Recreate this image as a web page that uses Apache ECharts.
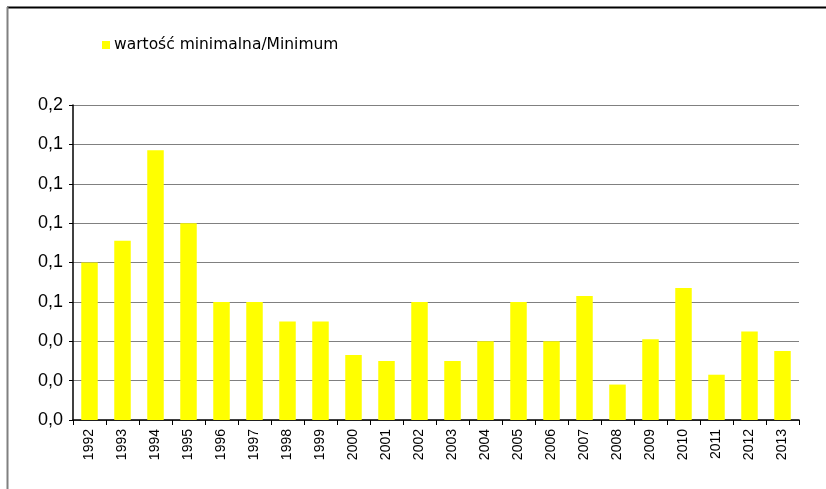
<!DOCTYPE html>
<html>
<head>
<meta charset="utf-8">
<script src="https://cdn.jsdelivr.net/npm/echarts@6/dist/echarts.min.js"></script>
<style>
html,body{margin:0;padding:0;background:#fff;}
#chart{width:826px;height:489px;}
</style>
</head>
<body>
<div id="chart"></div>
<script>
const years = ['1992','1993','1994','1995','1996','1997','1998','1999','2000','2001','2002','2003','2004','2005','2006','2007','2008','2009','2010','2011','2012','2013'];
const minimumValues = [0.080,0.091,0.137,0.100,0.060,0.060,0.050,0.050,0.033,0.030,0.060,0.030,0.040,0.060,0.040,0.063,0.018,0.041,0.067,0.023,0.045,0.035];
const seriesName = 'wartość minimalna/Minimum';
const yMin = 0, yMax = 0.16, yStep = 0.02;

const chart = echarts.init(document.getElementById('chart'));
chart.setOption({
  animation: false,
  backgroundColor: '#ffffff',
  graphic: [
    {type:'line', shape:{x1:7, y1:7.5, x2:826, y2:7.5}, style:{stroke:'#000', lineWidth:2}},
    {type:'line', shape:{x1:7.5, y1:7, x2:7.5, y2:489}, style:{stroke:'#808080', lineWidth:2}}
  ],
  legend: {
    left: 102, top: 37, padding: 0,
    itemWidth: 8, itemHeight: 8, itemGap: 10,
    icon: 'rect',
    textStyle: {fontFamily: 'DejaVu Sans', fontSize: 15.5, color: '#000', padding:[0,0,0,-1]},
    data: [seriesName]
  },
  grid: {left: 73, right: 27, top: 105, bottom: 69},
  xAxis: {
    type: 'category',
    data: years,
    boundaryGap: true,
    axisLine: {lineStyle: {color: '#000', width: 1.5}},
    axisTick: {show: true, length: 5, lineStyle: {color: '#000'}},
    axisLabel: {rotate: 90, fontFamily: 'Liberation Sans', fontSize: 14, color: '#000', margin: 9},
    splitLine: {show: false}
  },
  yAxis: {
    type: 'value',
    min: yMin, max: yMax, interval: yStep,
    axisLine: {show: true, lineStyle: {color: '#000', width: 1.5}},
    axisTick: {show: true, length: 4, inside: false, lineStyle: {color: '#000'}},
    axisLabel: {
      fontFamily: 'Liberation Sans', fontSize: 18, color: '#000', margin: 10,
      formatter: v => v.toFixed(1).replace('.', ',')
    },
    splitLine: {show: true, lineStyle: {color: '#808080', width: 1}}
  },
  series: [{
    name: seriesName,
    type: 'bar',
    data: minimumValues,
    barWidth: '50%',
    itemStyle: {color: '#FFFF00'}
  }]
});
</script>
</body>
</html>
